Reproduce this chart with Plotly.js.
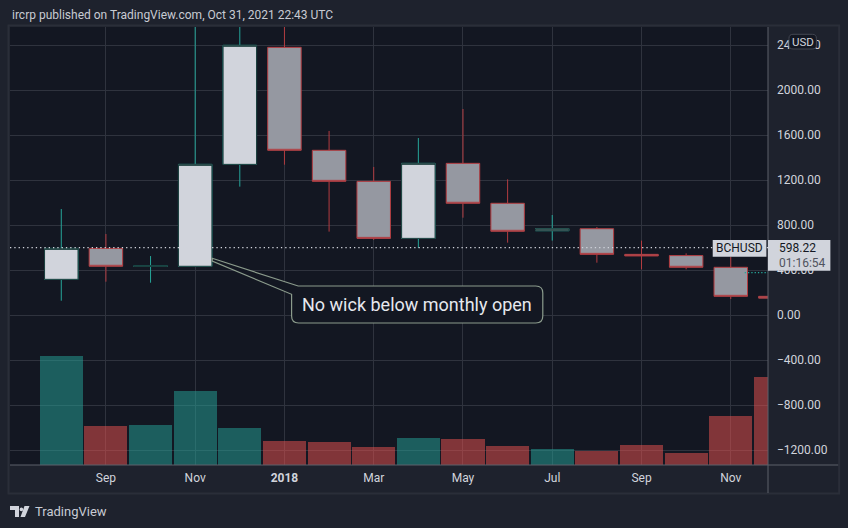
<!DOCTYPE html>
<html>
<head>
<meta charset="utf-8">
<script src="https://cdn.plot.ly/plotly-3.0.1.min.js"></script>
<style>
  html, body { margin: 0; padding: 0; background: #1e222d; }
  #chart { width: 848px; height: 528px; }
</style>
</head>
<body>
<div id="chart"></div>
<script>
// ---- data (BCHUSD, monthly) ----
const months = ['2017-08','2017-09','2017-10','2017-11','2017-12','2018-01','2018-02','2018-03','2018-04','2018-05','2018-06','2018-07','2018-08','2018-09','2018-10','2018-11','2018-12'];
const open   = [317, 592, 433, 433, 1339, 2379, 1464, 1188, 681, 1348, 993, 749, 767, 539, 528, 424, 166];
const high   = [942, 720, 524, 2650, 4300, 2900, 1636, 1316, 1573, 1831, 1206, 889, 782, 661, 548, 516, 230];
const low    = [127, 296, 287, 433, 1141, 1336, 741, 667, 596, 865, 643, 661, 465, 406, 406, 142, 75];
const close  = [592, 433, 436, 1339, 2397, 1464, 1188, 681, 1348, 993, 744, 767, 539, 525, 424, 166, 150];
const volume = [10.9, 3.9, 4.0, 7.4, 3.7, 2.4, 2.3, 1.8, 2.7, 2.6, 1.9, 1.57, 1.4, 2.0, 1.2, 4.9, 8.8];
const tickMonths = ['2017-09','2017-11','2018-01','2018-03','2018-05','2018-07','2018-09','2018-11'];
const tickLabels = ['Sep','Nov','<b>2018</b>','Mar','May','Jul','Sep','Nov'];
const priceTicks = [-1200, -800, -400, 0, 400, 800, 1200, 1600, 2000, 2400];
const lastPrice = 598.22;
const secondLine = 376;

// ---- layout geometry (pixels) ----
const W = 848, H = 528, L = 10, R = 768.3, T = 27, B = 465;
const px = x => (x - L) / (R - L);
const py = y => (B - y) / (B - T);

const UP = '#26a69a', DOWN = '#b23c40', UPBORDER = '#183a39';

const isUp = open.map((o, i) => close[i] >= o);

const candles = {
  type: 'candlestick', x: months, open: open, high: high, low: low, close: close,
  increasing: { line: { color: UP, width: 1 }, fillcolor: '#d1d4dc' },
  decreasing: { line: { color: DOWN, width: 1 }, fillcolor: '#9598a1' },
  whiskerwidth: 0, hoverinfo: 'skip', showlegend: false
};
// redraw up-candle bodies with the darker outline (no wicks)
const upBodies = {
  type: 'candlestick', x: months,
  open: open.map((o, i) => isUp[i] ? o : null),
  close: close.map((c, i) => isUp[i] ? c : null),
  high: close.map((c, i) => isUp[i] ? c : null),
  low: open.map((o, i) => isUp[i] ? o : null),
  increasing: { line: { color: UPBORDER, width: 1 }, fillcolor: '#d1d4dc' },
  decreasing: { line: { color: DOWN, width: 1 }, fillcolor: '#9598a1' },
  whiskerwidth: 0, hoverinfo: 'skip', showlegend: false
};
const vol = {
  type: 'bar', x: months, y: volume, yaxis: 'y2', width: 0.965,
  marker: { color: isUp.map(u => u ? 'rgba(38,166,154,0.5)' : 'rgba(239,83,80,0.5)'), line: { width: 0 } },
  hoverinfo: 'skip', showlegend: false
};

const txt = (x, y, text, size, color, xanchor, extra) => Object.assign({
  xref: 'paper', yref: 'paper', x: px(x), y: py(y), text: text, showarrow: false,
  xanchor: xanchor || 'left', yanchor: 'middle',
  font: { family: 'Roboto, "Liberation Sans", sans-serif', size: size, color: color }
}, extra || {});

// callout path with tail
function p(x, y) { return px(x).toFixed(5) + ',' + py(y).toFixed(5); }
const bl = 291.7, br = 543, bt = 286, bb = 323, rr = 7;
const callout = 'M ' + p(298.3, bt) + ' L ' + p(br - rr, bt) + ' Q ' + p(br, bt) + ' ' + p(br, bt + rr) +
  ' L ' + p(br, bb - rr) + ' Q ' + p(br, bb) + ' ' + p(br - rr, bb) +
  ' L ' + p(bl + rr, bb) + ' Q ' + p(bl, bb) + ' ' + p(bl, bb - rr) +
  ' L ' + p(bl, 294.3) + ' L ' + p(212.3, 261) + ' L ' + p(212.3, 258.3) + ' Z';

function roundRect(x0, y0, x1, y1, r) {
  return 'M ' + p(x0 + r, y0) + ' L ' + p(x1 - r, y0) + ' Q ' + p(x1, y0) + ' ' + p(x1, y0 + r) +
    ' L ' + p(x1, y1 - r) + ' Q ' + p(x1, y1) + ' ' + p(x1 - r, y1) +
    ' L ' + p(x0 + r, y1) + ' Q ' + p(x0, y1) + ' ' + p(x0, y1 - r) +
    ' L ' + p(x0, y0 + r) + ' Q ' + p(x0, y0) + ' ' + p(x0 + r, y0) + ' Z';
}

const rectPx = (x0, y0, x1, y1, fill, line, lw, layer) => ({
  type: 'rect', xref: 'paper', yref: 'paper', x0: px(x0), x1: px(x1), y0: py(y1), y1: py(y0),
  fillcolor: fill, line: { color: line || fill, width: lw === undefined ? 0 : lw }, layer: layer || 'above'
});

// TradingView logo (approximate)
const logo = 'M ' + p(10, 506) + ' L ' + p(19, 506) + ' L ' + p(19, 517) + ' L ' + p(15, 517) + ' L ' + p(15, 510) + ' L ' + p(10, 510) + ' Z ' +
  'M ' + p(24.5, 506) + ' L ' + p(29.5, 506) + ' L ' + p(25, 517) + ' L ' + p(20.5, 517) + ' Z';

const layout = {
  width: W, height: H,
  margin: { l: L, r: W - R, t: T, b: H - B, pad: 0 },
  paper_bgcolor: '#1e222d', plot_bgcolor: '#131722',
  boxgap: 0.25, boxgroupgap: 0, bargap: 0,
  xaxis: {
    type: 'category', range: [-1.149, 15.834], fixedrange: true,
    tickmode: 'array', tickvals: tickMonths, ticktext: tickLabels,
    showgrid: true, gridcolor: '#2f333e', gridwidth: 1, ticks: '', showline: false, zeroline: false,
    rangeslider: { visible: false }, ticklabelstandoff: 4,
    tickfont: { family: 'Roboto, "Liberation Sans", sans-serif', size: 12, color: '#d1d4dc' }
  },
  yaxis: {
    side: 'right', range: [-1333.3, 2560], fixedrange: true,
    tickmode: 'array', tickvals: priceTicks, tickformat: '.2f',
    showgrid: true, gridcolor: '#2f333e', gridwidth: 1, ticks: '', zeroline: false, showline: false,
    ticklabelstandoff: 8,
    tickfont: { family: 'Roboto, "Liberation Sans", sans-serif', size: 12, color: '#d1d4dc' }
  },
  yaxis2: { overlaying: 'y', range: [0, 43.8], visible: false, fixedrange: true },
  shapes: [
    rectPx(8.5, 25.5, 839.5, 493.5, 'rgba(0,0,0,0)', '#2a2e39', 2, 'below'),
    { type: 'line', xref: 'paper', yref: 'paper', x0: px(R), x1: px(R), y0: 1, y1: py(493), line: { color: '#5d606b', width: 1 }, layer: 'above' },
    { type: 'line', xref: 'paper', yref: 'paper', x0: 0, x1: px(838.5), y0: 0, y1: 0, line: { color: '#5d606b', width: 1 }, layer: 'above' },
    { type: 'line', xref: 'paper', yref: 'y', x0: 0, x1: 1, y0: lastPrice, y1: lastPrice, line: { color: '#d1d4dc', width: 1.3, dash: '1.3px,3px' }, layer: 'above' },
    { type: 'line', xref: 'paper', yref: 'y', x0: px(745), x1: 1, y0: secondLine, y1: secondLine, line: { color: '#26a69a', width: 1.3, dash: '1.3px,2px' }, layer: 'above' },
    { type: 'path', xref: 'paper', yref: 'paper', path: callout, fillcolor: '#131722', line: { color: '#8b9b8c', width: 1.2 }, layer: 'above' },
    { type: 'path', xref: 'paper', yref: 'paper', path: roundRect(789.3, 34.3, 816.7, 49, 4), fillcolor: '#131722', line: { color: '#434651', width: 1 }, layer: 'above' },
    rectPx(713, 240, 766.7, 256.7, '#d1d4dc'),
    rectPx(768.3, 240, 830.7, 270.7, '#d1d4dc'),
    { type: 'path', xref: 'paper', yref: 'paper', path: logo, fillcolor: '#d1d4dc', line: { width: 0 }, layer: 'above' },
    { type: 'circle', xref: 'paper', yref: 'paper', x0: px(19.6), x1: px(23.2), y0: py(511.2), y1: py(507.6), fillcolor: '#d1d4dc', line: { width: 0 }, layer: 'above' }
  ],
  annotations: [
    txt(10, 15, 'ircrp published on TradingView.com, Oct 31, 2021 22:43 UTC', 12, '#c8cbd3'),
    txt(417.3, 304.5, 'No wick below monthly open', 18, '#e6e8ee', 'center'),
    txt(803, 41.7, 'USD', 11.5, '#d1d4dc', 'center'),
    txt(739.8, 248.3, 'BCHUSD', 12, '#131722', 'center'),
    txt(777.5, 248, '598.22', 12, '#131722'),
    txt(777.5, 263, '01:16:54', 12, '#50535e'),
    txt(33, 511, 'TradingView', 13, '#c8cbd3')
  ]
};

Plotly.newPlot('chart', [vol, candles, upBodies], layout, { staticPlot: true, displayModeBar: false });
</script>
</body>
</html>
